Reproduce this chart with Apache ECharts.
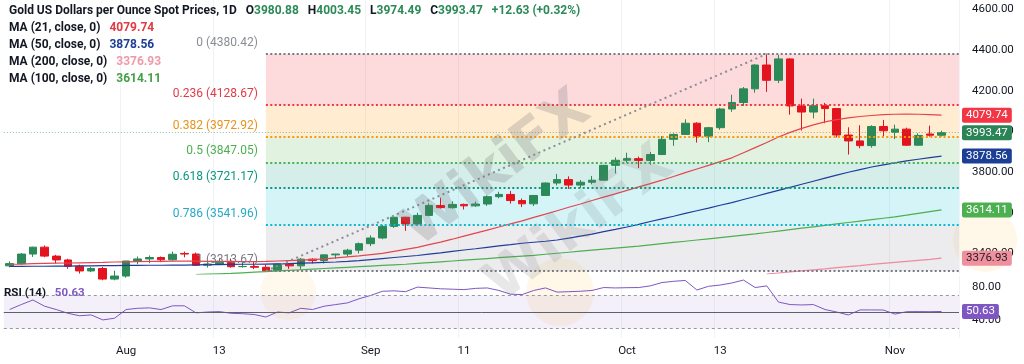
<!DOCTYPE html>
<html><head><meta charset="utf-8">
<script src="https://cdn.jsdelivr.net/npm/echarts@6/dist/echarts.min.js"></script>
<style>html,body{margin:0;padding:0;background:#fff}#c{width:1024px;height:364px}</style>
</head><body><div id="c"></div>
<script>
// ---------- DATA ----------
const dates = ['Jul 18','Jul 21','Jul 22','Jul 23','Jul 24','Jul 25','Jul 28','Jul 29','Jul 30','Jul 31',
 'Aug 1','Aug 4','Aug 5','Aug 6','Aug 7','Aug 8','Aug 11','Aug 12','Aug 13','Aug 14','Aug 15','Aug 18','Aug 19','Aug 20','Aug 21','Aug 22','Aug 25','Aug 26','Aug 27','Aug 28','Aug 29',
 'Sep 1','Sep 2','Sep 3','Sep 4','Sep 5','Sep 8','Sep 9','Sep 10','Sep 11','Sep 12','Sep 15','Sep 16','Sep 17','Sep 18','Sep 19','Sep 22','Sep 23','Sep 24','Sep 25','Sep 26','Sep 29','Sep 30',
 'Oct 1','Oct 2','Oct 3','Oct 6','Oct 7','Oct 8','Oct 9','Oct 10','Oct 13','Oct 14','Oct 15','Oct 16','Oct 17','Oct 20','Oct 21','Oct 22','Oct 23','Oct 24','Oct 27','Oct 28','Oct 29','Oct 30','Oct 31',
 'Nov 3','Nov 4','Nov 5','Nov 6','Nov 7','Nov 10'];
const open = [3339,3350,3397,3431,3387,3368,3337,3314,3326,3274,
 3289,3363,3373,3380,3369,3400,3397,3342,3348,3356,3335,3336,3332,3315,3347,3339,3372,3365,3393,3397,3416,
 3448,3476,3533,3578,3545,3587,3636,3625,3641,3634,3643,3679,3690,3660,3644,3685,3746,3763,3736,3750,3760,3833,
 3858,3866,3857,3886,3961,3985,4040,3976,4018,4110,4142,4209,4326,4251,4356,4125,4095,4126,4112,3982,3953,3930,4024,
 3996,4011,3932,3987,3980.88];
const high = [3361,3402,3433,3439,3393,3374,3345,3334,3334,3315,
 3363,3385,3390,3385,3409,3409,3404,3358,3375,3375,3359,3358,3345,3350,3351,3378,3376,3393,3398,3423,3454,
 3489,3540,3578,3580,3600,3646,3674,3656,3645,3655,3685,3703,3707,3670,3686,3749,3791,3779,3761,3781,3835,3872,
 3895,3876,3899,3977,3990,4059,4045,4022,4116,4180,4218,4330,4380.42,4375,4359,4161,4161,4140,4114,4020,4030,4030,4056,
 4033,4018,3991,4028,4003.45];
const low = [3332,3345,3383,3381,3351,3325,3301,3308,3268,3268,
 3281,3347,3352,3357,3364,3381,3340,3331,3345,3330,3331,3323,3315,3313.67,3324,3321,3351,3351,3374,3385,3400,
 3436,3470,3526,3511,3537,3583,3621,3620,3616,3629,3634,3671,3645,3628,3633,3684,3735,3717,3722,3740,3759,3793,
 3846,3820,3836,3884,3929,3984,3945,3947,4008,4096,4125,4190,4194,4237,4082,4004,4064,4040,3970,3886,3917,3920,3974,
 3962,3928,3929,3974,3974.49];
const close = [3350,3397,3431,3387,3368,3337,3314,3326,3274,3289,
 3363,3373,3380,3369,3396,3397,3342,3348,3356,3335,3336,3332,3315,3347,3339,3372,3365,3393,3397,3416,3448,
 3476,3533,3578,3545,3587,3636,3625,3641,3634,3643,3679,3690,3660,3644,3685,3746,3763,3736,3750,3760,3833,3858,
 3866,3857,3886,3961,3985,4040,3976,4018,4110,4142,4209,4326,4251,4356,4125,4095,4126,4112,3982,3953,3930,4024,4003,
 4011,3932,3980,3980.84,3993.47];
const ma21 = [3347,3348,3350,3351,3352,3353,3354,3355,3356,3358,3359,3360,3361,3361,3362,3362,3362,3361,3361,3361,3360,
 3360,3361,3363,3365,3367,3370,3373,3378,3383,3388,3394,3400,3410,3420,3430,3443,3456,3470,3485,3500,3515,3530,3545,3560,
 3577,3593,3610,3627,3643,3660,3677,3693,3710,3727,3743,3760,3778,3797,3815,3833,3851,3870,3895,3920,3945,3972,3995,4015,
 4032,4047,4058,4066,4073,4078,4082,4084,4085,4084,4082,4079.74];
const ma50 = [3336,3336,3337,3337,3338,3338,3339,3339,3340,3340,3341,3341,3342,3342,3343,3343,3344,3345,3345,3346,3347,
 3347,3348,3349,3350,3352,3354,3356,3358,3361,3365,3370,3375,3380,3385,3390,3397,3403,3410,3417,3423,3430,3437,3443,3450,
 3455,3460,3466,3475,3485,3495,3507,3518,3530,3543,3557,3570,3583,3597,3610,3623,3637,3650,3665,3680,3695,3710,3725,3740,
 3755,3770,3785,3799,3812,3825,3835,3845,3855,3863,3871,3878.56];
const ma100 = [null,null,null,null,null,null,null,null,null,null,null,null,null,null,null,null,3296,3298,3300,3302,3305,
 3308,3311,3314,3317,3320,3323,3326,3329,3332,3335,3338,3341,3344,3347,3351,3355,3359,3363,3367,3371,3375,3379,3383,3387,
 3391,3396,3401,3406,3411,3416,3421,3426,3431,3436,3442,3448,3454,3460,3466,3472,3478,3484,3490,3496,3503,3510,3517,3524,
 3531,3538,3545,3552,3559,3566,3573,3580,3588,3597,3606,3614.11];
const ma200 = [
 null,null,null,null,null,null,null,null,null,null,  // Jul 18 - Jul 31
 null,null,null,null,null,null,null,null,null,null,  // Aug 1 - Aug 14
 null,null,null,null,null,null,null,null,null,null,  // Aug 15 - Aug 28
 null,null,null,null,null,null,null,null,null,null,  // Aug 29 - Sep 11
 null,null,null,null,null,null,null,null,null,null,  // Sep 12 - Sep 25
 null,null,null,null,null,null,null,null,null,null,  // Sep 26 - Oct 9
 null,null,null,null,null,                           // Oct 10 - Oct 16
 3299,3304,3309,3314,3319,3324,3330,3335,3340,3346,  // Oct 17 - Oct 30
 3351,3356,3361,3366,3371,3376.93];                  // Oct 31 - Nov 7
const rsi = [53,59,64.5,57,53,48.5,45.5,46.5,40.5,42.5,53,54.5,55,53,57.5,57.5,49,50,50.5,48.5,48,47,44,50,49,
 54.5,53,57,59,61,66,70,75,75.5,74.5,80,79,78,77.5,77,78.5,79,76,71.5,71,76,79,74,74.5,75,76,79.5,79,79.3,79.5,
 81.5,85.5,87,88,76.5,81,82.5,85,88.5,79.5,81.5,62,59,58.5,59,53,50,46.5,52.5,52.5,52.4,47.5,50.4,50.5,50.4,50.63];
const fibRatios = [0, 0.236, 0.382, 0.5, 0.618, 0.786, 1];
const fibPrices = [4380.42, 4128.67, 3972.92, 3847.05, 3721.17, 3541.96, 3313.67];
const fibStart = 'Aug 19', fibEnd = 'Oct 17';
const priceTicks = [3400, 3600, 3800, 4000, 4200, 4400, 4600];
const rsiTicks = [40, 80];
const rsiBands = [70, 50, 30];
const tickDates = ['Aug 1','Aug 13','Sep 1','Sep 11','Oct 1','Oct 13','Nov 3'];
const tickLabels = ['Aug','13','Sep','11','Oct','13','Nov'];

// ---------- STYLE ----------
const FONT = 'Roboto, "Noto Sans", sans-serif';
const UP = '#2b8a57', DOWN = '#e3141e';
const PLOT_LEFT = 3.8, PLOT_RIGHT = 959;
const CLEAR = 'rgba(0,0,0,0)';
const fibLine = ['#787b86','#f23645','#ff9800','#4caf50','#089981','#00bcd4','#787b86'];
const fibText = ['#8a8d96','#e03a44','#e8921a','#4caf50','#089981','#26a9c6','#787b86'];
const fibFill = ['rgba(242,54,69,0.18)','rgba(255,152,0,0.18)','rgba(76,175,80,0.17)','rgba(8,153,129,0.17)','rgba(0,188,212,0.17)','rgba(120,123,134,0.14)'];
const MA = [
  {name:'MA (21, close, 0)', data: ma21, line:'#e5454f', box:'#f23645', txt:'#e03a44', boxText:'#fff'},
  {name:'MA (50, close, 0)', data: ma50, line:'#1f3d99', box:'#1c3f95', txt:'#1c3f95', boxText:'#fff'},
  {name:'MA (200, close, 0)', data: ma200, line:'#f0899e', box:'#f0909f', txt:'#ee9aaa', boxText:'#222'},
  {name:'MA (100, close, 0)', data: ma100, line:'#4caf50', box:'#4caf50', txt:'#43a047', boxText:'#fff'}
];
const last = close.length - 1;
const chg = close[last] - close[last-1];

const candles = close.map((c, i) => [open[i], c, low[i], high[i]]);

function boxLabel(bg, fg) {
  return {show: true, position: 'end', distance: 3, formatter: p => Number(p.value).toFixed(2),
    backgroundColor: bg, color: fg, fontSize: 11.5, fontFamily: FONT, padding: [2, 4, 1, 4], borderRadius: 2, opacity: 1};
}

const fibAreas = [];
for (let j = 0; j < 6; j++) {
  fibAreas.push([{xAxis: fibStart, yAxis: fibPrices[j], itemStyle: {color: fibFill[j]}}, {x: PLOT_RIGHT, yAxis: fibPrices[j+1]}]);
}
const fibLines = fibPrices.map((p, j) => [
  {xAxis: fibStart, yAxis: p, lineStyle: {color: fibLine[j], type: [2, 2.4], width: 2},
   label: {show: true, position: 'start', distance: 8, offset: [0, -11], formatter: fibRatios[j] + ' (' + p.toFixed(2) + ')',
     color: fibText[j], fontSize: 12, fontFamily: FONT}},
  {x: PLOT_RIGHT, yAxis: p}
]);
fibLines.push([
  {coord: [fibStart, fibPrices[6]], lineStyle: {color: '#8a8d96', type: [2, 3.5], width: 2}, label: {show: false}},
  {coord: [fibEnd, fibPrices[0]]}
]);

const series = [
  {type: 'line', name: 'fib', xAxisIndex: 0, yAxisIndex: 0, data: close.map(() => null), z: 1, silent: true,
   showSymbol: false, lineStyle: {color: CLEAR},
   markArea: {silent: true, data: fibAreas},
   markLine: {silent: true, symbol: ['none','none'], data: fibLines}},
  {type: 'candlestick', name: 'gold', xAxisIndex: 0, yAxisIndex: 0, data: candles, z: 3, barWidth: '70%',
   itemStyle: {color: UP, color0: DOWN, borderColor: UP, borderColor0: DOWN, borderWidth: 1},
   markLine: {silent: true, symbol: ['none','none'], z: 5,
     data: [{yAxis: close[last], lineStyle: {color: 'rgba(43,138,87,0.55)', type: [1, 2], width: 1}, label: boxLabel('#2a8456', '#fff')}]}}
];
MA.forEach(m => {
  const v = m.data[m.data.length - 1];
  series.push({type: 'line', name: m.name, xAxisIndex: 0, yAxisIndex: 0, data: m.data, z: 4, showSymbol: false,
    lineStyle: {color: m.line, width: 1.2}, silent: true,
    markLine: {silent: true, symbol: ['none','none'], z: 6,
      data: [{yAxis: v, lineStyle: {color: CLEAR, width: 0}, label: boxLabel(m.box, m.boxText)}]}});
});
series.push({type: 'line', name: 'RSI', xAxisIndex: 1, yAxisIndex: 1, data: rsi, z: 4, showSymbol: false,
  lineStyle: {color: '#7e57c2', width: 1}, silent: true,
  markArea: {silent: true, itemStyle: {color: 'rgba(126,87,194,0.09)'}, data: [[{yAxis: rsiBands[0]}, {yAxis: rsiBands[2]}]]},
  markLine: {silent: true, symbol: ['none','none'],
    data: [
      {yAxis: rsiBands[0], lineStyle: {color: '#9598a1', type: [3, 3], width: 1}, label: {show: false}},
      {yAxis: rsiBands[2], lineStyle: {color: '#9598a1', type: [3, 3], width: 1}, label: {show: false}},
      {yAxis: rsiBands[1], lineStyle: {color: '#5d606b', type: 'solid', width: 1}, label: {show: false}},
      {yAxis: rsi[rsi.length-1], lineStyle: {color: CLEAR, width: 0}, label: boxLabel('#7e57c2', '#fff')}
    ]}});

const titles = [
  {left: 9, top: 2, padding: 0, text: '{t|Gold US Dollars per Ounce Spot Prices, 1D}  {k|O}{v|' + open[last].toFixed(2) + '}  {k|H}{v|' + high[last].toFixed(2) +
    '}  {k|L}{v|' + low[last].toFixed(2) + '}  {k|C}{v|' + close[last].toFixed(2) + '}  {v|' + (chg >= 0 ? '+' : '') + chg.toFixed(2) + ' (' + (chg >= 0 ? '+' : '') + (chg / close[last-1] * 100).toFixed(2) + '%)}',
   textStyle: {rich: {t: {color: '#131722', fontSize: 12, fontFamily: FONT}, k: {color: '#131722', fontSize: 12, fontFamily: FONT}, v: {color: UP, fontSize: 12, fontFamily: FONT}}}}
];
MA.forEach((m, i) => {
  const v = m.data[m.data.length - 1];
  titles.push({left: 9, top: 19 + i * 17, padding: 0, text: '{k|' + m.name + '}  {v|' + v.toFixed(2) + '}',
    textStyle: {rich: {k: {color: '#131722', fontSize: 12, fontFamily: FONT}, v: {color: m.txt, fontSize: 12, fontFamily: FONT}}}});
});
titles.push({left: 4, top: 284, padding: 0, text: '{k|RSI (14)}  {v|' + rsi[rsi.length-1].toFixed(2) + '}',
  textStyle: {rich: {k: {color: '#131722', fontSize: 11.5, fontFamily: FONT}, v: {color: '#7e57c2', fontSize: 11.5, fontFamily: FONT}}}});

const xCommon = {type: 'category', data: dates, boundaryGap: true,
  axisLine: {show: false}, axisTick: {show: false},
  splitLine: {show: true, interval: (i, v) => tickDates.includes(v), lineStyle: {color: '#f1f2f5', width: 1}}};

const option = {
  animation: false,
  backgroundColor: '#fff',
  textStyle: {fontFamily: FONT},
  title: titles,
  grid: [
    {left: PLOT_LEFT, right: 1024 - PLOT_RIGHT, top: 0, height: 274, containLabel: false},
    {left: PLOT_LEFT, right: 1024 - PLOT_RIGHT, top: 276, height: 62, containLabel: false}
  ],
  xAxis: [
    Object.assign({}, xCommon, {gridIndex: 0, axisLabel: {show: false}}),
    Object.assign({}, xCommon, {gridIndex: 1, axisLabel: {show: true, interval: (i, v) => tickDates.includes(v),
      formatter: v => tickLabels[tickDates.indexOf(v)], color: '#131722', fontSize: 11.5, margin: 7}})
  ],
  yAxis: [
    {gridIndex: 0, type: 'value', position: 'right', min: 3299, max: 4645.6, scale: true,
     axisLine: {show: false}, axisTick: {show: false}, splitLine: {show: false},
     axisLabel: {customValues: priceTicks, formatter: v => v.toFixed(2), color: '#131722', fontSize: 11.5, margin: 13}},
    {gridIndex: 1, type: 'value', position: 'right', min: 18.7, max: 93.4, scale: true,
     axisLine: {show: false}, axisTick: {show: false}, splitLine: {show: false},
     axisLabel: {customValues: rsiTicks, formatter: v => v.toFixed(2), color: '#131722', fontSize: 11.5, margin: 13}}
  ],
  graphic: [
    {type: 'circle', shape: {cx: 560, cy: 292, r: 34}, z: 0, silent: true, style: {fill: 'rgba(255,196,80,0.13)'}},
    {type: 'circle', shape: {cx: 288, cy: 292, r: 28}, z: 0, silent: true, style: {fill: 'rgba(255,196,80,0.10)'}},
    {type: 'circle', shape: {cx: 985, cy: 240, r: 32}, z: 0, silent: true, style: {fill: 'rgba(255,196,80,0.13)'}},
    {type: 'text', x: 497, y: 170, rotation: 0.65, z: 10, silent: true,
     style: {text: 'WikiFX', fontSize: 56, fontWeight: 'bold', fontFamily: 'DejaVu Sans', fill: 'rgba(120,120,120,0.26)', align: 'center', verticalAlign: 'middle'}},
    {type: 'text', x: 580, y: 225, rotation: 0.65, z: 10, silent: true,
     style: {text: 'WikiFX', fontSize: 56, fontWeight: 'bold', fontFamily: 'DejaVu Sans', fill: 'rgba(120,120,120,0.17)', align: 'center', verticalAlign: 'middle'}},
    {type: 'text', x: -60, y: 200, rotation: 0.62, z: 10, silent: true,
     style: {text: 'FX', fontSize: 80, fontWeight: 'bold', fontFamily: 'DejaVu Sans', fill: 'rgba(150,150,150,0.22)', align: 'center', verticalAlign: 'middle'}}
  ],
  series: series
};
echarts.init(document.getElementById('c'), null, {renderer: 'canvas'}).setOption(option);
</script>
</body></html>
